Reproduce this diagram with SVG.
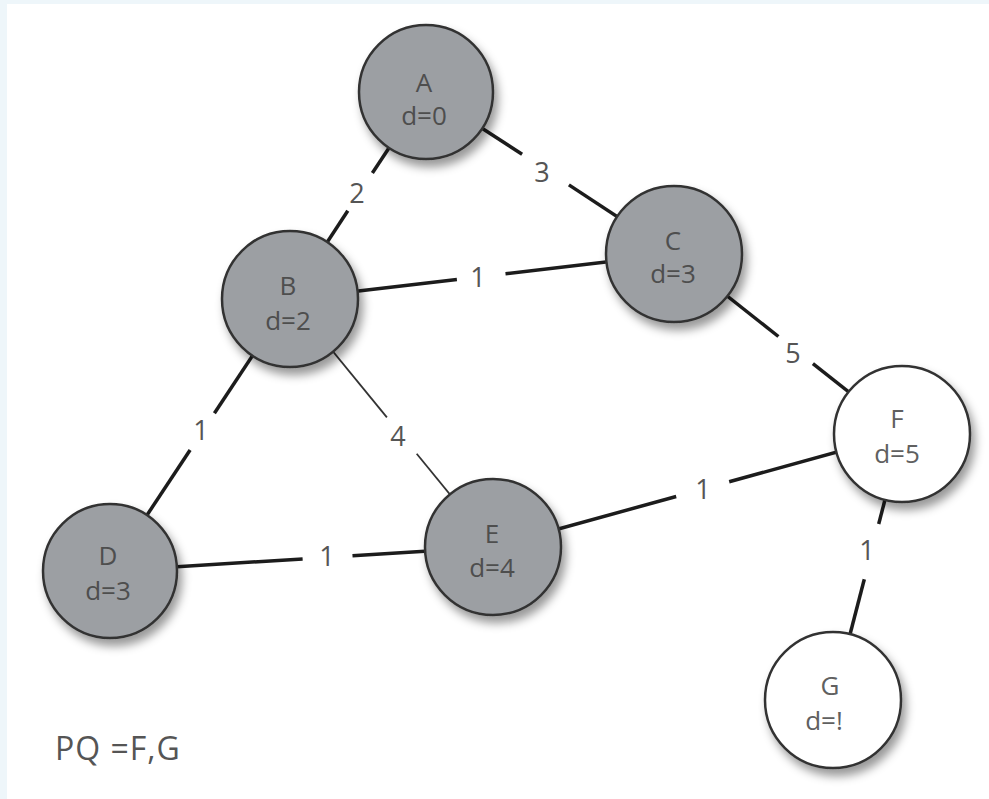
<svg xmlns="http://www.w3.org/2000/svg" width="989" height="799" viewBox="0 0 989 799">
<style>
.node{stroke:#333;stroke-width:2.5;filter:url(#sh)}
.gray{fill:#9c9fa3}
.white{fill:#ffffff}
.nt{font-family:"Open Sans",Lato,sans-serif;font-size:26px;fill:#4e4e4e;text-anchor:middle}
.nw{fill:#606060}
.edge{stroke:#1c1c1c;stroke-width:3.5;stroke-linecap:butt;fill:none}
.thin{stroke:#333;stroke-width:1.8}
.el{font-family:"Open Sans",Lato,sans-serif;font-size:27px;fill:#555;text-anchor:middle}
</style>
<defs>
<filter id="sh" x="-30%" y="-30%" width="170%" height="170%">
<feDropShadow dx="4" dy="7" stdDeviation="5" flood-color="#000" flood-opacity="0.4"/>
</filter>
</defs>
<rect x="0" y="0" width="989" height="799" fill="#ffffff"/>
<rect x="0" y="0" width="989" height="4" fill="#eef6fa"/>
<rect x="0" y="0" width="7" height="799" fill="#eef6fa"/>
<g id="connectors">
<line class="edge" x1="426" y1="92" x2="372.4" y2="173"/>
<line class="edge" x1="347.8" y1="210.7" x2="290" y2="299"/>
<text class="el" x="357" y="203">2</text>
<line class="edge" x1="426" y1="92" x2="522.1" y2="154.2"/>
<line class="edge" x1="568.9" y1="184.9" x2="674" y2="254"/>
<text class="el" x="542" y="182">3</text>
<line class="edge" x1="290" y1="299" x2="456.9" y2="279.4"/>
<line class="edge" x1="505.5" y1="273.7" x2="674" y2="254"/>
<text class="el" x="478" y="287">1</text>
<line class="edge thin" x1="290" y1="299" x2="386.9" y2="417.4"/>
<line class="edge thin" x1="416.7" y1="453.8" x2="493" y2="547"/>
<text class="el" x="398" y="446">4</text>
<line class="edge" x1="674" y1="254" x2="778.4" y2="336.5"/>
<line class="edge" x1="812.9" y1="363.7" x2="902" y2="434"/>
<text class="el" x="793" y="363">5</text>
<line class="edge" x1="290" y1="299" x2="214.4" y2="413.3"/>
<line class="edge" x1="190.1" y1="450" x2="110" y2="571"/>
<text class="el" x="201" y="440">1</text>
<line class="edge" x1="110" y1="571" x2="302.6" y2="558.9"/>
<line class="edge" x1="352.5" y1="555.8" x2="493" y2="547"/>
<text class="el" x="327" y="566">1</text>
<line class="edge" x1="493" y1="547" x2="676.2" y2="496.5"/>
<line class="edge" x1="729.2" y1="481.8" x2="902" y2="434"/>
<text class="el" x="703" y="499">1</text>
<line class="edge" x1="902" y1="434" x2="878.7" y2="524"/>
<line class="edge" x1="864.3" y1="579.2" x2="833" y2="700"/>
<text class="el" x="867" y="560">1</text>
</g>
<g id="A"><circle class="node gray" cx="426" cy="92" r="67"/><text class="nt"><tspan x="424" y="92">A</tspan><tspan x="424" y="125">d=0</tspan></text></g>
<g id="B"><circle class="node gray" cx="290" cy="299" r="68"/><text class="nt"><tspan x="288" y="295">B</tspan><tspan x="288" y="330">d=2</tspan></text></g>
<g id="C"><circle class="node gray" cx="674" cy="254" r="68"/><text class="nt"><tspan x="673" y="250">C</tspan><tspan x="673" y="283">d=3</tspan></text></g>
<g id="D"><circle class="node gray" cx="110" cy="571" r="67"/><text class="nt"><tspan x="108" y="565">D</tspan><tspan x="108" y="600">d=3</tspan></text></g>
<g id="E"><circle class="node gray" cx="493" cy="547" r="68"/><text class="nt"><tspan x="492" y="543">E</tspan><tspan x="492" y="577">d=4</tspan></text></g>
<g id="F"><circle class="node white" cx="902" cy="434" r="68"/><text class="nt nw"><tspan x="897" y="428">F</tspan><tspan x="897" y="463">d=5</tspan></text></g>
<g id="G"><circle class="node white" cx="833" cy="700" r="68"/><text class="nt nw"><tspan x="830" y="695">G</tspan><tspan x="824" y="730">d=!</tspan></text></g>
<text x="55" y="760" font-family="'Open Sans',Lato,sans-serif" font-size="32" letter-spacing="1" fill="#555">PQ =F,G</text>
</svg>
